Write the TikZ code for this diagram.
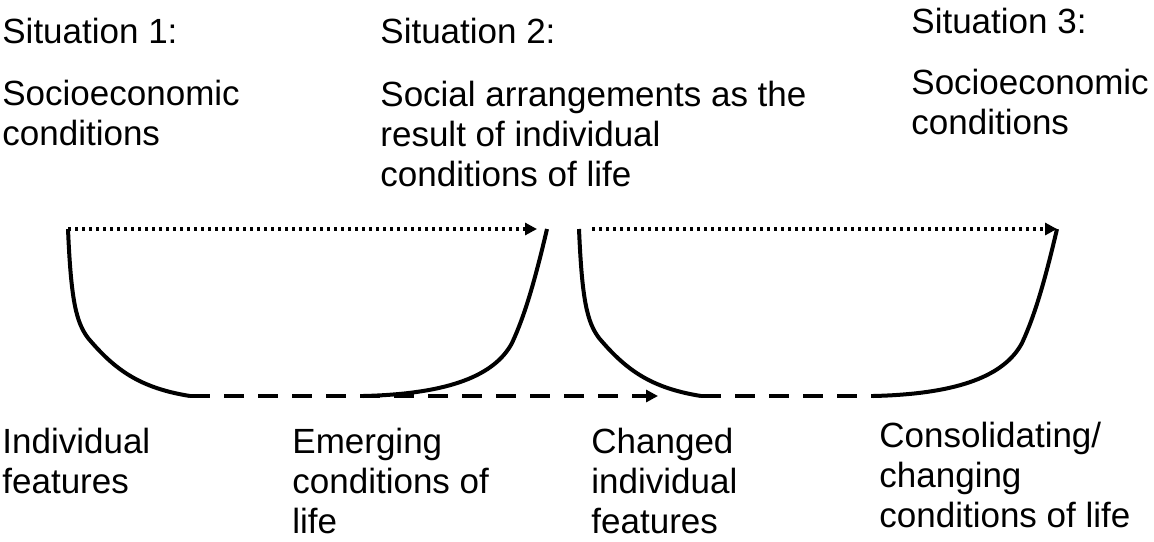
\documentclass[tikz,border=0pt]{standalone}
\usepackage{fontspec}
\setmainfont{Liberation Sans}
\usetikzlibrary{arrows.meta}

\tikzset{
  txtblock/.style={anchor=base west, inner sep=0pt, align=left, font=\fontsize{17.5pt}{20pt}\selectfont},
  bowl/.style={line width=2pt},
  dotarrow/.style={line width=1.6pt, dash pattern=on 1.6pt off 1.9pt, -{Triangle[length=6pt,width=6pt]}},
  dasharrow/.style={line width=2pt, dash pattern=on 10pt off 7pt, -{Triangle[length=6pt,width=6pt]}},
  dashline/.style={line width=2pt, dash pattern=on 10pt off 7pt}
}

\begin{document}
\begin{tikzpicture}[x=0.5pt, y=-0.5pt]
    \useasboundingbox (0,0) rectangle (1154,541);

    % Situations on top (placed at the baseline of the last line)
    \node [txtblock] (sit_one) at (2,43) {Situation 1:};
    \node [txtblock] (socio_one) at (2,145) {Socioeconomic\\conditions};
    \node [txtblock] (sit_two) at (380,43) {Situation 2:};
    \node [txtblock] (arrangements) at (380,186) {Social arrangements as the\\result of individual\\conditions of life};
    \node [txtblock] (sit_three) at (911,33) {Situation 3:};
    \node [txtblock] (socio_three) at (911,134) {Socioeconomic\\conditions};

    % Individual level below
    \node [txtblock] (features) at (2,493) {Individual\\features};
    \node [txtblock] (emerging) at (292,533) {Emerging\\conditions of\\life};
    \node [txtblock] (changed) at (591,533) {Changed\\individual\\features};
    \node [txtblock] (consolidating) at (879,527) {Consolidating/\\changing\\conditions of life};

    % Corners of the two bowls
    \coordinate (b1_top_left) at (68,229);
    \coordinate (b1_bot_left) at (190,396);
    \coordinate (b1_bot_right) at (363,396);
    \coordinate (b1_top_right) at (547,229);
    \coordinate (b2_top_left) at (579,229);
    \coordinate (b2_bot_left) at (701,396);
    \coordinate (b2_bot_right) at (873,396);
    \coordinate (b2_top_right) at (1057,229);
    \coordinate (dot_one_end) at (537,229);
    \coordinate (dot_two_start) at (592,229);
    \coordinate (dash_end) at (658,396);

    % Bowls
    \draw [bowl] (b1_top_left) .. controls (71,300) and (76,322) .. (88,338)
        .. controls (115,370) and (140,388) .. (b1_bot_left);
    \draw [bowl] (b1_bot_right) .. controls (450,394) and (495,375) .. (512,343)
        .. controls (525,315) and (535,280) .. (b1_top_right);
    \draw [bowl] (b2_top_left) .. controls (582,300) and (587,322) .. (599,338)
        .. controls (626,370) and (651,388) .. (b2_bot_left);
    \draw [bowl] (b2_bot_right) .. controls (960,394) and (1005,375) .. (1022,343)
        .. controls (1035,315) and (1045,280) .. (b2_top_right);

    % Arrows
    \draw [dotarrow] (b1_top_left) -- (dot_one_end);
    \draw [dotarrow] (dot_two_start) -- (b2_top_right);
    \draw [dasharrow] (b1_bot_left) -- (dash_end);
    \draw [dashline] (b2_bot_left) -- (b2_bot_right);
\end{tikzpicture}
\end{document}
